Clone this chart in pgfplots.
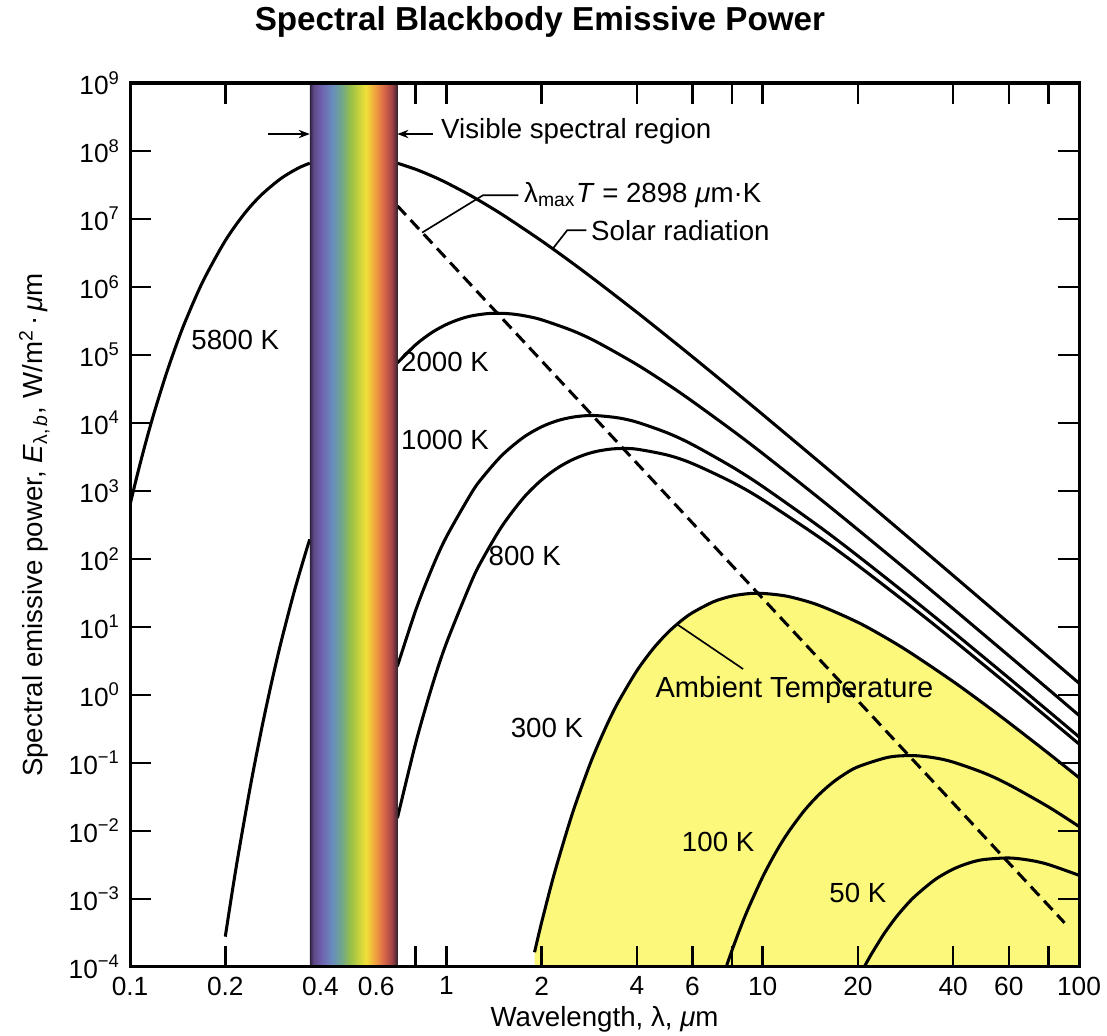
\documentclass[border=0pt]{standalone}
\usepackage{fontspec}
\setmainfont{Liberation Sans}
\usepackage{pgfplots}
\pgfplotsset{compat=1.18}
\usetikzlibrary{arrows.meta}

\definecolor{ambient}{RGB}{252,248,124}
\definecolor{vs0}{RGB}{45,32,55}
\definecolor{vs1}{RGB}{95,72,135}
\definecolor{vs2}{RGB}{112,100,178}
\definecolor{vs3}{RGB}{104,142,188}
\definecolor{vs4}{RGB}{112,166,142}
\definecolor{vs5}{RGB}{150,190,72}
\definecolor{vs6}{RGB}{200,210,62}
\definecolor{vs7}{RGB}{240,224,56}
\definecolor{vs8}{RGB}{240,165,62}
\definecolor{vs9}{RGB}{220,106,72}
\definecolor{vs10}{RGB}{160,66,70}
\definecolor{vs11}{RGB}{60,36,46}
% tikz fits the middle 50bp of a shading to the path
\pgfdeclarehorizontalshading{visible}{100bp}{color(0bp)=(vs0); color(25bp)=(vs0);
  color(27bp)=(vs1); color(32bp)=(vs2); color(38bp)=(vs3); color(43bp)=(vs4);
  color(48bp)=(vs5); color(53bp)=(vs6); color(57bp)=(vs7); color(62bp)=(vs8);
  color(67bp)=(vs9); color(72bp)=(vs10); color(75bp)=(vs11); color(100bp)=(vs11)}

\begin{document}
\begin{tikzpicture}
\begin{axis}[
  name=ax, scale only axis,
  width=342.9pt, height=319.4pt,
  xmode=log, xmin=0.1, xmax=100, ymin=-4, ymax=9,
  xminorticks=false,
  xtick={0.1,0.2,0.8,1,2,4,6,8,10,20,40,60,80,100},
  xticklabels={0.1,0.2,,1,2,4,6,,10,20,40,60,,100},
  extra x ticks={0.4,0.6}, extra x tick labels={0.4,0.6},
  extra x tick style={major tick length=0pt},
  ytick={-4,-3,-2,-1,0,1,2,3,4,5,6,7,8,9},
  yticklabels={10\textsuperscript{−4},10\textsuperscript{−3},10\textsuperscript{−2},10\textsuperscript{−1},
    10\textsuperscript{0},10\textsuperscript{1},10\textsuperscript{2},10\textsuperscript{3},10\textsuperscript{4},
    10\textsuperscript{5},10\textsuperscript{6},10\textsuperscript{7},10\textsuperscript{8},10\textsuperscript{9}},
  tick pos=both, tick align=inside, major tick length=7.5pt,
  tick style={line width=0.9pt, black},
  axis line style={line width=1.1pt},
  tick label style={font=\fontsize{9.5}{10}\selectfont},
  label style={font=\fontsize{10}{12}\selectfont},
  xlabel={Wavelength, λ, \textit{μ}m},
  xlabel style={yshift=3pt},
  ylabel={Spectral emissive power, \textit{E}\textsubscript{λ,\,\textit{b}}, W/m\textsuperscript{2}\,·\,\textit{μ}m},
  axis on top,
  every axis plot/.append style={line width=1.1pt, black},
]
% ambient temperature region under the 300 K curve
\addplot[draw=none, fill=ambient] coordinates {
  (1.9,-3.783) (2,-3.346) (2.2,-2.607) (2.5,-1.748) (2.8,-1.102) (3,-0.755) (3.25,-0.395)
  (3.5,-0.098) (4,0.356) (4.5,0.678) (5,0.913) (5.5,1.084) (6,1.211) (7,1.373) (8,1.455)
  (9,1.490) (10,1.494) (12,1.450) (15,1.322) (20,1.068) (25,0.819) (30,0.591) (40,0.198)
  (50,-0.129) (60,-0.406) (80,-0.857) (100,-1.216) (100,-4) (1.9,-4)
} -- cycle;

% 5800 K
\addplot[smooth] coordinates {
  (0.1,2.800) (0.105,3.207) (0.11,3.572) (0.115,3.902) (0.12,4.199) (0.13,4.716)
  (0.14,5.147) (0.15,5.511) (0.17,6.084) (0.2,6.681) (0.23,7.080) (0.26,7.354)
  (0.3,7.596) (0.34,7.748) (0.37,7.821)
};
\addplot[smooth] coordinates {
  (0.70,7.821) (0.8,7.731) (0.9,7.633) (1,7.534) (1.2,7.338) (1.5,7.067) (2,6.678)
  (2.5,6.354) (3,6.078) (4,5.629) (5,5.270) (6,4.973) (8,4.497) (10,4.124)
  (15,3.438) (20,2.947) (30,2.252) (40,1.757) (60,1.057) (80,0.559) (100,0.173)
};
% 2000 K
\addplot[smooth] coordinates {
  (0.2,-3.554) (0.21,-2.916) (0.22,-2.340) (0.24,-1.346) (0.26,-0.518)
  (0.28,0.179) (0.3,0.773) (0.33,1.513) (0.36,2.113) (0.37,2.288)
};
\addplot[smooth] coordinates {
  (0.70,4.884) (0.8,5.152) (0.9,5.331) (1,5.449) (1.1,5.526) (1.2,5.575) (1.35,5.609)
  (1.5,5.613) (1.65,5.598) (1.8,5.569) (2,5.518) (2.5,5.359) (3,5.188) (4,4.860)
  (5,4.571) (6,4.317) (8,3.894) (10,3.551) (15,2.903) (20,2.431) (30,1.755)
  (40,1.268) (60,0.577) (80,0.084) (100,-0.300)
};
% 1000 K
\addplot[smooth] coordinates {
  (0.70,0.421) (0.8,1.247) (0.9,1.859) (1,2.325) (1.2,2.970) (1.3,3.197) (1.5,3.527)
  (1.75,3.787) (2,3.944) (2.25,4.036) (2.5,4.085) (2.75,4.107) (3,4.108) (3.5,4.075)
  (4,4.013) (5,3.854) (6,3.682) (8,3.355) (10,3.066) (15,2.486) (20,2.045)
  (30,1.398) (40,0.926) (60,0.249) (80,-0.237) (100,-0.616)
};
% 800 K
\addplot[smooth] coordinates {
  (0.70,-1.811) (0.8,-0.705) (0.9,0.124) (1,0.762) (1.2,1.668) (1.3,1.995) (1.5,2.485)
  (1.75,2.895) (2,3.163) (2.25,3.341) (2.5,3.459) (2.75,3.537) (3,3.585) (3.3,3.616)
  (3.6,3.625) (4,3.615) (5,3.528) (6,3.403) (8,3.130) (10,2.871) (15,2.327)
  (20,1.904) (30,1.273) (40,0.809) (60,0.139) (80,-0.344) (100,-0.721)
};
% 300 K
\addplot[smooth] coordinates {
  (1.9,-3.783) (2,-3.346) (2.2,-2.607) (2.5,-1.748) (2.8,-1.102) (3,-0.755) (3.25,-0.395)
  (3.5,-0.098) (4,0.356) (4.5,0.678) (5,0.913) (5.5,1.084) (6,1.211) (7,1.373) (8,1.455)
  (9,1.490) (10,1.494) (12,1.450) (15,1.322) (20,1.068) (25,0.819) (30,0.591) (40,0.198)
  (50,-0.129) (60,-0.406) (80,-0.857) (100,-1.216)
};
% 100 K
\addplot[smooth] coordinates {
  (7.7,-3.974) (8,-3.753) (8.5,-3.425) (9,-3.141) (10,-2.675) (11,-2.314) (12,-2.030)
  (13.5,-1.707) (15,-1.473) (16.5,-1.301) (18,-1.175) (20,-1.056) (25,-0.915)
  (30,-0.892) (35,-0.925) (40,-0.987) (50,-1.146) (60,-1.318) (80,-1.645) (100,-1.934)
};
% 50 K
\addplot[smooth] coordinates {
  (21,-3.989) (22,-3.820) (24,-3.535) (25.5,-3.361) (27,-3.212) (30,-2.978) (35,-2.718)
  (40,-2.561) (45,-2.469) (50,-2.420) (60,-2.397) (70,-2.431) (80,-2.493) (100,-2.652)
};

% labels
\node[font=\fontsize{10.5}{12}\selectfont] at (axis cs:12.6,0.074) {Ambient Temperature};
\draw[line width=0.6pt] (axis cs:5.36,1.04) -- (axis cs:8.67,0.382);

% lambda_max T = 2898
\addplot[dashed, dash pattern=on 4.5pt off 2.5pt, line width=1.1pt] coordinates {
  (0.70,7.194) (90,-3.351)
};

% visible band
\addplot[draw=none, shading=visible] coordinates {
  (0.37,-4) (0.70,-4) (0.70,9) (0.37,9)
} -- cycle;

\begin{scope}[font=\fontsize{10}{12}\selectfont]
\node at (axis cs:0.215,5.22) {5800 K};
\node at (axis cs:0.99,4.90) {2000 K};
\node at (axis cs:0.99,3.75) {1000 K};
\node at (axis cs:1.77,2.04) {800 K};
\node at (axis cs:2.08,-0.485) {300 K};
\node at (axis cs:7.23,-2.16) {100 K};
\node at (axis cs:20.0,-2.91) {50 K};
\node[anchor=west, inner sep=1pt] at (axis cs:0.94,8.294) {Visible spectral region};
\node[anchor=west, inner sep=1pt] at (axis cs:1.72,7.35) {λ\textsubscript{max}\textit{T} = 2898 \textit{μ}m·K};
\node[anchor=west, inner sep=1pt] at (axis cs:2.80,6.835) {Solar radiation};
\end{scope}
\draw[line width=0.6pt, -{Stealth[length=4pt,width=3pt]}] (axis cs:0.91,8.25) -- (axis cs:0.70,8.25);
\draw[line width=0.6pt, -{Stealth[length=4pt,width=3pt]}] (axis cs:0.273,8.25) -- (axis cs:0.37,8.25);
\draw[line width=0.6pt] (axis cs:1.69,7.35) -- (axis cs:1.306,7.35) -- (axis cs:0.838,6.80);
\draw[line width=0.6pt] (axis cs:2.77,6.835) -- (axis cs:2.41,6.835) -- (axis cs:2.175,6.57);
\end{axis}
\node[font=\bfseries\fontsize{12}{14}\selectfont] at ([shift={(148.1pt,22pt)}]ax.north west) {Spectral Blackbody Emissive Power};
\pgfresetboundingbox
\path ([shift={(-47.0pt,-24.6pt)}]ax.south west) rectangle ([shift={(10.1pt,30pt)}]ax.north east);
\end{tikzpicture}
\end{document}
